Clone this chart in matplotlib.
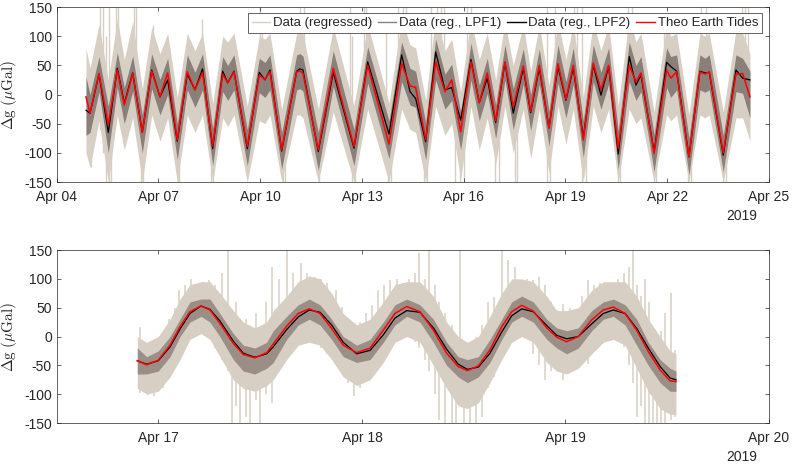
import matplotlib
matplotlib.use('Agg')
import matplotlib.pyplot as plt
from matplotlib.lines import Line2D

# ---------------- top panel (Apr 2019, day of month) ----------------
t_top = [4.864, 4.982, 5.247, 5.521, 5.787, 5.993, 6.241, 6.524, 6.801, 7.045,
         7.272, 7.555, 7.850, 8.077, 8.300, 8.599, 8.894, 9.041, 9.227, 9.619,
         9.973, 10.141, 10.288, 10.633, 11.075, 11.170, 11.260, 11.712, 12.154, 12.765,
         13.169, 13.797, 14.171, 14.416, 14.584, 14.878, 15.173, 15.448, 15.645, 15.910,
         16.214, 16.459, 16.694, 16.942, 17.216, 17.461, 17.756, 17.974, 18.228, 18.514,
         18.779, 19.015, 19.230, 19.525, 19.819, 20.046, 20.273, 20.556, 20.881, 21.078,
         21.226, 21.613, 21.983, 22.105, 22.278, 22.641, 22.965, 23.110, 23.240, 23.652,
         24.027, 24.224, 24.439]
theo_top = [-4, -32, 36, -52, 42, -18, 36, -65, 40, -4,
            37, -78, 39, 8, 38, -88, 35, 20, 39, -89,
            33, 26, 39, -95, 39, 40, 37, -95, 45, -89,
            50, -85, 53, 15, 12, -77, 56, 5, 25, -64,
            56, -14, 37, -45, 56, -21, 49, -29, 50, -58,
            53, -8, 50, -78, 54, 8, 50, -92, 50, 22,
            37, -101, 42, 28, 39, -107, 39, 35, 39, -100,
            35, 36, -4]
lpf2_top = [-27, -32, 35, -65, 45, -15, 37, -65, 42, -4,
            25, -80, 35, 8, 44, -93, 40, 20, 40, -93,
            38, 25, 42, -97, 40, 44, 42, -98, 38, -92,
            56, -68, 68, 5, -7, -81, 73, 8, 12, -44,
            60, -14, 28, -48, 55, -32, 45, -31, 45, -57,
            48, -10, 46, -74, 50, -1, 48, -102, 65, 16,
            33, -98, 55, 48, 40, -107, 40, 37, 38, -104,
            42, 28, 25]
raw_hi_top = [80, 45, 120, 25, 130, 60, 125, 10, 115, 70,
              105, -5, 105, 75, 105, -15, 100, 90, 105, -20,
              100, 95, 105, -25, 105, 110, 105, -25, 115, -20,
              120, -15, 130, 85, 80, -10, 135, 75, 95, 5,
              130, 60, 105, 25, 125, 50, 120, 40, 120, 15,
              125, 60, 120, -5, 125, 75, 120, -20, 135, 90,
              105, -30, 120, 100, 105, -35, 105, 100, 105, -30,
              110, 105, 70]
raw_lo_top = [-100, -125, -45, -150, -35, -95, -40, -150, -35, -80,
              -40, -150, -35, -65, -35, -150, -40, -55, -35, -150,
              -45, -50, -35, -150, -35, -35, -40, -150, -30, -150,
              -25, -150, -25, -60, -65, -150, -20, -70, -50, -145,
              -20, -95, -40, -120, -20, -100, -25, -110, -25, -135,
              -20, -85, -25, -150, -20, -65, -25, -150, -25, -50,
              -40, -150, -35, -45, -35, -150, -35, -40, -35, -150,
              -40, -40, -80]
lpf1_hi_top = [30, 0, 65, -20, 72, 12, 66, -35, 70, 26,
               62, -50, 68, 38, 70, -58, 65, 50, 68, -60,
               62, 55, 68, -65, 68, 70, 66, -65, 75, -60,
               82, -45, 90, 45, 40, -48, 95, 35, 52, -30,
               88, 16, 62, -18, 85, 10, 78, 0, 78, -28,
               85, 22, 80, -45, 85, 38, 80, -62, 90, 50,
               65, -68, 80, 65, 68, -75, 68, 62, 68, -70,
               68, 62, 40]
lpf1_lo_top = [-70, -65, 5, -100, 12, -50, 6, -100, 10, -35,
               0, -112, 8, -22, 8, -122, 5, -10, 8, -122,
               3, -5, 8, -128, 8, 10, 6, -130, 14, -122,
               20, -110, 22, -18, -22, -112, 25, -25, -10, -95,
               25, -45, 2, -75, 25, -60, 18, -62, 18, -88,
               20, -40, 18, -108, 22, -25, 18, -128, 22, -10,
               5, -132, 12, -5, 8, -138, 8, 4, 8, -132,
               5, 2, -40]
spike_t_top = [5.02, 5.29, 5.36, 5.44, 5.53, 5.60, 5.75, 5.80, 6.27, 6.35,
               6.48, 6.55, 6.85, 7.58, 7.62, 8.28, 8.55, 8.62, 9.62, 10.00,
               10.05, 10.68, 10.72, 11.18, 11.30, 11.72, 12.65, 12.72, 12.80, 13.05,
               13.12, 13.70, 13.78, 13.85, 14.05, 14.20, 14.30, 14.82, 14.92, 15.05,
               15.20, 15.32, 15.42, 15.75, 15.90, 16.00, 16.10, 16.22, 16.92, 17.05,
               17.52, 17.58, 18.46, 18.55, 18.70, 19.25, 19.35, 19.48, 19.60, 20.55,
               20.62, 20.85, 20.95, 21.62, 21.68, 21.90, 22.00, 22.62, 22.70, 23.00,
               23.15, 23.65, 23.72, 24.20, 24.30, 24.38]
spike_lo_top = [-125, -60, -100, -150, -150, -150, -10, 0, -20, -40,
                -150, -150, -10, -150, -150, 0, -150, -150, -130, -10,
                0, -150, -150, 0, -10, -150, -70, -150, -150, 0,
                0, -30, -150, -150, 0, 10, -10, -150, -150, 0,
                10, -20, -40, -150, -150, -150, -20, 0, -150, -150,
                -150, -150, -150, -150, 0, 0, -30, -150, -150, -150,
                -150, 10, 0, -150, -150, -10, 0, -150, -150, 0,
                -10, -150, -150, -10, -20, -60]
spike_hi_top = [20, 150, 150, 100, 150, 40, 150, 150, 150, 150,
                0, -20, 120, -30, -20, 130, -20, -30, -40, 150,
                140, -40, -30, 150, 150, -40, 150, 100, -10, 150,
                150, 130, -30, -40, 150, 150, 150, -30, -20, 150,
                150, 150, 150, -10, 0, 30, 150, 150, 0, 40,
                30, 50, 150, 20, 150, 150, 150, 150, 0, -30,
                -20, 150, 150, -40, -30, 130, 130, -30, -20, 150,
                150, -40, -30, 150, 150, 150]

# ---------------- bottom panel ----------------
t_bot = [16.896, 16.942, 16.999, 17.057, 17.106, 17.155, 17.209, 17.253, 17.302, 17.368,
         17.417, 17.474, 17.532, 17.564, 17.630, 17.687, 17.741, 17.794, 17.851, 17.908,
         17.974, 18.040, 18.105, 18.162, 18.220, 18.285, 18.351, 18.416, 18.473, 18.518,
         18.572, 18.629, 18.687, 18.736, 18.785, 18.842, 18.908, 18.957, 19.006, 19.063,
         19.129, 19.186, 19.235, 19.293, 19.350, 19.407, 19.465, 19.514, 19.543]
theo_bot = [-42, -49, -41, -15, 17, 43, 53, 46, 23, -12,
            -31, -37, -28, -13, 18, 40, 48, 40, 14, -15,
            -28, -20, 11, 40, 52, 43, 11, -29, -52, -59,
            -51, -23, 17, 43, 54, 44, 15, -1, -9, 0,
            29, 46, 51, 40, 11, -26, -58, -77, -78]
lpf2_bot = [-42, -48, -42, -18, 13, 40, 53, 47, 27, -8,
            -29, -36, -30, -18, 12, 34, 46, 42, 20, -10,
            -30, -24, 3, 32, 45, 42, 15, -22, -48, -57,
            -53, -29, 8, 36, 48, 43, 19, 2, -4, 0,
            22, 40, 46, 40, 14, -20, -52, -72, -75]
raw_hi_bot = [0, -10, 0, 30, 65, 90, 95, 95, 75, 45,
              25, 15, 25, 45, 70, 95, 105, 100, 75, 40,
              20, 30, 60, 90, 95, 95, 70, 25, 0, -10,
              0, 35, 75, 100, 100, 95, 70, 45, 45, 50,
              80, 95, 95, 95, 70, 30, 0, -25, -30]
raw_lo_bot = [-90, -100, -95, -70, -40, -5, 5, -5, -35, -75,
              -90, -95, -85, -75, -40, -15, -10, -15, -40, -70,
              -85, -75, -45, -10, 0, -10, -50, -90, -120, -125,
              -115, -80, -40, -10, 0, -10, -45, -60, -65, -55,
              -30, -10, -5, -15, -55, -95, -125, -135, -135]
lpf1_hi_bot = [-20, -35, -25, 0, 30, 60, 65, 65, 40, 5,
               -15, -20, -10, 10, 35, 55, 65, 55, 30, 0,
               -15, -5, 25, 55, 65, 55, 30, -10, -35, -40,
               -35, -5, 30, 60, 70, 60, 30, 15, 10, 15,
               45, 60, 65, 55, 30, -10, -40, -55, -60]
lpf1_lo_bot = [-65, -65, -60, -35, 0, 25, 35, 25, 0, -40,
               -60, -65, -55, -45, -5, 20, 30, 20, -5, -35,
               -45, -40, -10, 20, 35, 25, -10, -50, -70, -80,
               -70, -45, -5, 25, 35, 25, -5, -20, -30, -20,
               10, 30, 35, 20, -15, -50, -80, -95, -95]
spike_t_bot = [16.91, 16.95, 16.98, 17.02, 17.05, 17.08, 17.10, 17.13, 17.16, 17.19,
               17.22, 17.25, 17.28, 17.31, 17.34, 17.36, 17.38, 17.40, 17.43, 17.45,
               17.48, 17.50, 17.53, 17.56, 17.59, 17.63, 17.66, 17.70, 17.73, 17.77,
               17.80, 17.83, 17.87, 17.90, 17.93, 17.96, 17.99, 18.02, 18.05, 18.08,
               18.11, 18.14, 18.17, 18.20, 18.23, 18.26, 18.28, 18.31, 18.33, 18.36,
               18.38, 18.41, 18.44, 18.46, 18.48, 18.50, 18.53, 18.56, 18.59, 18.62,
               18.65, 18.69, 18.72, 18.75, 18.78, 18.81, 18.84, 18.87, 18.90, 18.93,
               18.96, 18.99, 19.02, 19.05, 19.08, 19.11, 19.14, 19.17, 19.20, 19.23,
               19.26, 19.29, 19.31, 19.33, 19.35, 19.37, 19.39, 19.41, 19.43, 19.45,
               19.47, 19.49, 19.52, 19.54]
spike_lo_bot = [-98, -101, -104, -90, -60, -40, -20, -10, 0, 10,
                5, 0, -20, -40, -60, -150, -120, -150, -140, -150,
                -110, -150, -100, -116, -60, -30, -20, -10, 0, -10,
                -20, -30, -40, -60, -80, -104, -90, -70, -60, -40,
                -20, -10, 0, 5, 0, -10, -20, -40, -60, -100,
                -145, -150, -150, -150, -120, -150, -150, -150, -139, -90,
                -70, -30, -10, 0, 10, 0, -30, -50, -75, -60,
                -45, -75, -60, -52, -45, -47, -20, -6, 0, 0,
                -10, -18, -50, -80, -139, -120, -150, -150, -150, -150,
                -150, -150, -145, -139]
spike_hi_bot = [17, -30, -40, -10, 30, 50, 81, 90, 100, 85,
                95, 98, 90, 110, 150, 20, 60, -10, 30, -20,
                40, 10, 60, 121, 100, 150, 110, 127, 110, 104,
                100, 92, 80, 52, 30, 20, 25, 40, 55, 81,
                90, 98, 100, 92, 100, 110, 144, 100, 150, 90,
                60, 40, 20, 0, 150, -10, -10, 0, 20, 60,
                69, 150, 133, 120, 98, 100, 98, 104, 90, 60,
                46, 57, 50, 40, 70, 98, 90, 92, 85, 81,
                100, 110, 120, 150, 90, 70, 100, 60, 0, 0,
                10, 40, 75, -23]

top_ticks = [4, 7, 10, 13, 16, 19, 22, 25]
top_ticklabels = ['Apr 04', 'Apr 07', 'Apr 10', 'Apr 13', 'Apr 16', 'Apr 19', 'Apr 22', 'Apr 25']
bot_ticks = [17, 18, 19, 20]
bot_ticklabels = ['Apr 17', 'Apr 18', 'Apr 19', 'Apr 20']
y_ticks = [-150, -100, -50, 0, 50, 100, 150]
legend_labels = ['Data (regressed)', 'Data (reg., LPF1)', 'Data (reg., LPF2)', 'Theo Earth Tides']

# ---------------- style ----------------
plt.rcParams['font.family'] = ['Liberation Sans', 'DejaVu Sans']
plt.rcParams['axes.unicode_minus'] = False
plt.rcParams['mathtext.fontset'] = 'cm'

TAN = '#d7cfc4'
LPF1C = '#8b7f79'
LPF1B = '#9a8e87'
AXC = '#262626'

fig = plt.figure(figsize=(7.93, 4.65), dpi=100)
ax1 = fig.add_axes([0.0715, 0.6086, 0.8982, 0.3763])
ax2 = fig.add_axes([0.0715, 0.0903, 0.8982, 0.3720])


def draw(ax, t, rhi, rlo, st, slo, shi, lhi, llo, l2, th, lcol, slw):
    ax.fill_between(t, rlo, rhi, color=TAN, lw=0, zorder=1)
    ax.vlines(st, slo, shi, color=TAN, lw=slw, zorder=1)
    ax.fill_between(t, llo, lhi, color=lcol, lw=0, zorder=2)
    ax.plot(t, l2, color='k', lw=0.9, zorder=3, solid_joinstyle='round')
    ax.plot(t, th, color='r', lw=1.1, zorder=4, solid_joinstyle='round')


draw(ax1, t_top, raw_hi_top, raw_lo_top, spike_t_top, spike_lo_top, spike_hi_top,
     lpf1_hi_top, lpf1_lo_top, lpf2_top, theo_top, LPF1C, 1.0)
draw(ax2, t_bot, raw_hi_bot, raw_lo_bot, spike_t_bot, spike_lo_bot, spike_hi_bot,
     lpf1_hi_bot, lpf1_lo_bot, lpf2_bot, theo_bot, LPF1B, 1.1)

ax1.set_xlim(4, 25)
ax1.set_xticks(top_ticks)
ax1.set_xticklabels(top_ticklabels)
ax2.set_xlim(16.5, 20)
ax2.set_xticks(bot_ticks)
ax2.set_xticklabels(bot_ticklabels)

for ax in (ax1, ax2):
    ax.set_ylim(-150, 150)
    ax.set_yticks(y_ticks)
    ax.tick_params(direction='in', length=3, width=0.5, top=True, right=True,
                   labelsize=10, colors=AXC)
    ax.tick_params(axis='x', pad=6)
    for s in ax.spines.values():
        s.set_color(AXC)
        s.set_linewidth(0.5)
    ax.set_ylabel(r'$\Delta\mathrm{g}\ (\mu\mathrm{Gal})$', fontsize=11, color=AXC)
    ax.text(0.983, -0.195, '2019', transform=ax.transAxes, ha='right', va='center',
            fontsize=10, color=AXC)

handles = [Line2D([], [], color=TAN, lw=1), Line2D([], [], color=LPF1C, lw=1),
           Line2D([], [], color='k', lw=1), Line2D([], [], color='r', lw=1)]
leg = ax1.legend(handles, legend_labels, loc='upper right',
                 bbox_to_anchor=(1 - 7 / 712, 1 - 6 / 175), ncol=4, fontsize=9.5,
                 frameon=True, fancybox=False, edgecolor=AXC, framealpha=1,
                 handlelength=1.4, handletextpad=0.2, columnspacing=0.45,
                 borderpad=0.3, borderaxespad=0)
leg.get_frame().set_linewidth(0.5)
leg.set_zorder(10)
for txt in leg.get_texts():
    txt.set_color(AXC)

fig.savefig('out.png', dpi=100)
